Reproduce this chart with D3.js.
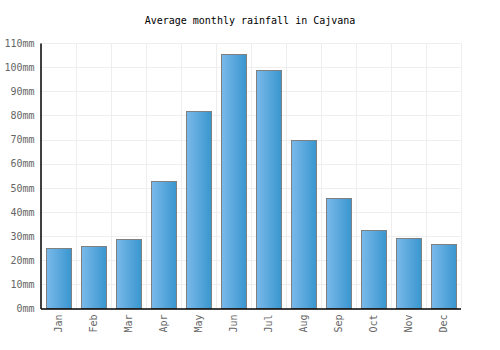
<!DOCTYPE html>
<html><head><meta charset="utf-8">
<script src="https://cdn.jsdelivr.net/npm/d3@7"></script>
<style>body{margin:0;background:#fff}</style>
</head><body><svg id="c" width="500" height="350"></svg>
<script>
const months = ["Jan","Feb","Mar","Apr","May","Jun","Jul","Aug","Sep","Oct","Nov","Dec"];
const rainfall = [25.2, 26.0, 28.9, 52.7, 82.0, 105.3, 98.7, 70.0, 45.6, 32.7, 29.4, 26.9];
const yTicks = [0,10,20,30,40,50,60,70,80,90,100,110];
const title = "Average monthly rainfall in Cajvana";

const svg = d3.select("#c");
const m = {l:40.5, r:460.5, t:43, b:308.5};
const x = d3.scaleBand().domain(months).range([m.l, m.r]).paddingInner(0.3).paddingOuter(0.15);
const xg = d3.scaleBand().domain(months).range([m.l, m.r]);
const y = d3.scaleLinear().domain([0,110]).range([m.b, m.t]);
const font = "'DejaVu Sans Mono', monospace";

const defs = svg.append("defs");
const g = defs.append("linearGradient").attr("id","bg").attr("x1","0").attr("x2","1").attr("y1","0").attr("y2","0");
g.append("stop").attr("offset","0%").attr("stop-color","#7ab9ea");
g.append("stop").attr("offset","100%").attr("stop-color","#3996cf");

// grid
svg.append("g").selectAll("line.h").data(yTicks.slice(1)).join("line")
  .attr("x1", m.l).attr("x2", m.r).attr("y1", d=>Math.round(y(d))+0.5).attr("y2", d=>Math.round(y(d))+0.5)
  .attr("stroke","#eeeeee").attr("stroke-width",1);
svg.append("g").selectAll("line.v").data(months).join("line")
  .attr("x1", d=>Math.round(xg(d)+xg.bandwidth())+0.5).attr("x2", d=>Math.round(xg(d)+xg.bandwidth())+0.5)
  .attr("y1", m.t).attr("y2", m.b)
  .attr("stroke","#eeeeee").attr("stroke-width",1);

// bars
svg.append("g").selectAll("rect").data(rainfall).join("rect")
  .attr("x", (d,i)=>Math.round(x(months[i]))+0.5)
  .attr("width", Math.round(x.bandwidth()))
  .attr("y", d=>Math.round(y(d))+0.5)
  .attr("height", d=>m.b - Math.round(y(d)) - 0.5)
  .attr("fill","url(#bg)").attr("stroke","#808080").attr("stroke-width",1);

// axes
const ya = svg.append("g").attr("transform",`translate(${m.l},0)`)
  .call(d3.axisLeft(y).tickValues(yTicks).tickSize(0).tickPadding(6).tickFormat(d=>d+"mm"));
ya.select(".domain").attr("stroke","#000").attr("stroke-width",1.5);
ya.selectAll("text").attr("font-family",font).attr("font-size",10).attr("fill","#666");

const xa = svg.append("g").attr("transform",`translate(0,${m.b})`)
  .call(d3.axisBottom(xg).tickSize(0).tickPadding(6));
xa.select(".domain").attr("stroke","#000").attr("stroke-width",1.5);
xa.selectAll(".tick text").attr("font-family",font).attr("font-size",10).attr("fill","#666")
  .attr("transform","rotate(-90)").attr("text-anchor","end")
  .attr("x",-6).attr("y",0).attr("dy","0.35em").attr("dx",0);

svg.append("text").attr("x",250).attr("y",24).attr("text-anchor","middle")
  .attr("font-family",font).attr("font-size",10).attr("fill","#000").text(title);
</script></body></html>
